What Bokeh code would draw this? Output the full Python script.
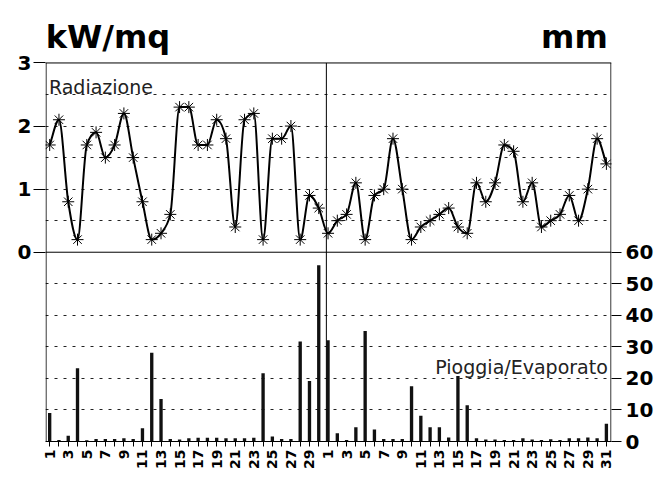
import math
import numpy as np
from bokeh.plotting import figure
from bokeh.models import (Range1d, LinearAxis, FixedTicker, Grid, Span, Label,
                          ColumnDataSource)
from bokeh.embed import file_html
from bokeh.resources import INLINE

# ---- data ----
days_m1 = list(range(1, 31))
days_m2 = list(range(1, 32))

rad_m1 = [1.7, 2.1, 0.8, 0.2, 1.7, 1.9, 1.5, 1.7, 2.2, 1.5,
          0.8, 0.2, 0.3, 0.6, 2.3, 2.3, 1.7, 1.7, 2.1, 1.8,
          0.4, 2.1, 2.2, 0.2, 1.8, 1.8, 2.0, 0.2, 0.9, 0.7]
rad_m2 = [0.3, 0.5, 0.6, 1.1, 0.2, 0.9, 1.0, 1.8, 1.0, 0.2,
          0.4, 0.5, 0.6, 0.7, 0.4, 0.3, 1.1, 0.8, 1.1, 1.7,
          1.6, 0.8, 1.1, 0.4, 0.5, 0.6, 0.9, 0.5, 1.0, 1.8, 1.4]

mm_m1 = [9.0, 0.5, 1.8, 23.2, 0.4, 0.8, 0.8, 0.8, 1.0, 0.8,
         4.2, 28.1, 13.5, 0.8, 0.6, 1.0, 1.2, 1.2, 1.2, 1.0,
         1.0, 1.0, 1.2, 21.6, 1.6, 0.8, 0.8, 31.7, 19.2, 55.9]
mm_m2 = [32.1, 2.6, 0.5, 4.5, 35.0, 3.8, 0.8, 0.8, 0.8, 17.5,
         8.2, 4.5, 4.5, 1.3, 20.8, 11.5, 1.0, 0.6, 0.6, 0.5,
         0.5, 1.0, 0.6, 0.5, 0.7, 0.5, 1.0, 1.0, 1.3, 1.0, 5.6]

rad_ticks = [0, 1, 2, 3]
mm_ticks = [0, 10, 20, 30, 40, 50, 60]

days = days_m1 + days_m2
rad = rad_m1 + rad_m2
mm = mm_m1 + mm_m2
idx = list(range(len(days)))
x_labels = {i: (str(d) if d % 2 == 1 else "") for i, d in zip(idx, days)}

FONT = "DejaVu Sans"
X0, X1 = -0.45, 60.55
PANEL_TOP = 120          # top of radiation panel in mm-axis units (0..60 lower, 60..120 upper)

p = figure(width=659, height=471, x_range=Range1d(X0, X1),
           y_range=Range1d(0, 139.8), output_backend="svg", title=None,
           toolbar_location=None, y_axis_location=None,
           min_border_left=45, min_border_right=48,
           min_border_top=0, min_border_bottom=29)
p.extra_y_ranges = {"rad": Range1d(-3, 3.99)}
p.grid.visible = False
p.outline_line_color = None

grid = Grid(dimension=1, ticker=FixedTicker(ticks=[10, 20, 30, 40, 50, 70, 80, 90, 100, 110]),
            grid_line_color="#222222", grid_line_dash="3 6", grid_line_width=1)
p.add_layout(grid)

ax_l = LinearAxis(y_range_name="rad", ticker=FixedTicker(ticks=rad_ticks),
                  major_tick_out=12, major_tick_in=0, minor_tick_out=0, minor_tick_in=0,
                  major_label_standoff=2, axis_line_color=None,
                  major_tick_line_color="black",
                  major_label_text_font=FONT, major_label_text_font_style="bold",
                  major_label_text_font_size="20px", major_label_text_color="black")
p.add_layout(ax_l, "left")

ax_r = LinearAxis(ticker=FixedTicker(ticks=mm_ticks),
                  major_tick_out=10, major_tick_in=0, minor_tick_out=0, minor_tick_in=0,
                  major_label_standoff=4, axis_line_color=None,
                  major_tick_line_color="black",
                  major_label_text_font=FONT, major_label_text_font_style="bold",
                  major_label_text_font_size="20px", major_label_text_color="black")
p.add_layout(ax_r, "right")

xa = p.xaxis[0]
xa.ticker = FixedTicker(ticks=idx)
xa.major_label_overrides = x_labels
xa.major_label_orientation = math.pi / 2
xa.major_tick_out = 5
xa.major_tick_in = 0
xa.minor_tick_out = 0
xa.minor_tick_in = 0
xa.major_label_standoff = 3
xa.axis_line_color = "black"
xa.major_tick_line_color = "black"
xa.major_label_text_font = FONT
xa.major_label_text_font_style = "bold"
xa.major_label_text_font_size = "14px"
xa.major_label_text_color = "black"

# panel frame: top border, separator, side borders, month divider
p.add_layout(Span(location=PANEL_TOP, dimension="width", line_color="black", line_width=1))
p.add_layout(Span(location=60, dimension="width", line_color="black", line_width=1))
p.segment(x0=[X0 + 0.06, X1 - 0.06, 29.82], y0=[0, 0, 0],
          x1=[X0 + 0.06, X1 - 0.06, 29.82], y1=[PANEL_TOP] * 3,
          line_color="black", line_width=1)

p.vbar(x=idx, top=mm, bottom=0, width=0.36, fill_color="#111111", line_color=None)

# monotone smooth curve through the data points (Steffen tangents -> Bezier)
xv = np.array(idx, dtype=float)
yv = np.array(rad, dtype=float)
d = np.diff(yv)
m = np.zeros_like(yv)
m[0] = d[0]
m[-1] = d[-1]
for i in range(1, len(yv) - 1):
    d0, d1 = d[i - 1], d[i]
    pm = 0.5 * (d0 + d1)
    m[i] = (np.sign(d0) + np.sign(d1)) * min(abs(d0), abs(d1), 0.5 * abs(pm))
bz = ColumnDataSource(dict(
    x0=xv[:-1], y0=yv[:-1], x1=xv[1:], y1=yv[1:],
    cx0=xv[:-1] + 1.0 / 3, cy0=yv[:-1] + m[:-1] / 3.0,
    cx1=xv[1:] - 1.0 / 3, cy1=yv[1:] - m[1:] / 3.0,
))
p.bezier(x0="x0", y0="y0", x1="x1", y1="y1", cx0="cx0", cy0="cy0",
         cx1="cx1", cy1="cy1", source=bz, line_color="black", line_width=2,
         y_range_name="rad")
p.scatter(x=idx, y=rad, marker="asterisk", size=12, line_color="black",
          line_width=1, y_range_name="rad")

# texts
p.add_layout(Label(x=X0 + 0.02, y=128.1, text="kW/mq", text_font=FONT, text_font_style="bold",
                   text_font_size="32px", text_color="black",
                   text_baseline="alphabetic", text_align="left"))
p.add_layout(Label(x=60.15, y=128.1, text="mm", text_font=FONT, text_font_style="bold",
                   text_font_size="32px", text_color="black",
                   text_baseline="alphabetic", text_align="right"))
p.add_layout(Label(x=-0.08, y=112.3, text="Radiazione", text_font=FONT,
                   text_font_size="19px", text_color="#222222",
                   text_baseline="alphabetic", text_align="left"))
p.add_layout(Label(x=60.15, y=23.5, text="Pioggia/Evaporato", text_font=FONT,
                   text_font_size="19px", text_color="#222222",
                   text_baseline="alphabetic", text_align="right"))

open("out.html", "w").write(file_html(p, INLINE))
